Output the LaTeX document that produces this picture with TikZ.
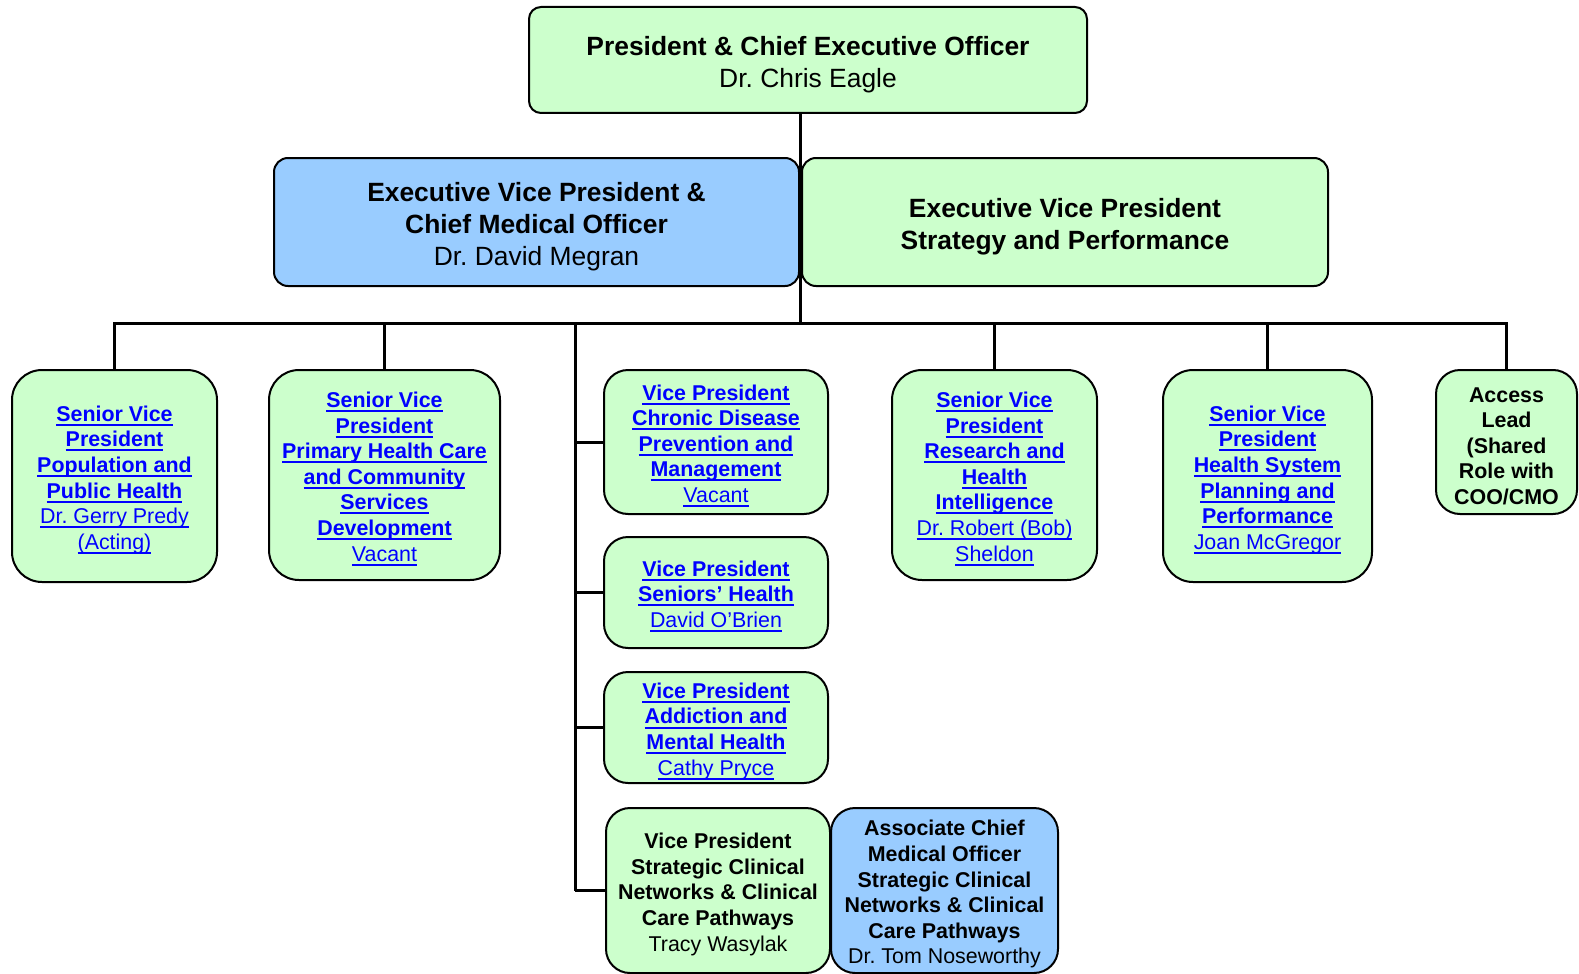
\documentclass[tikz,border=0pt]{standalone}
\usepackage{fontspec}
\setmainfont{Liberation Sans}
\frenchspacing
\definecolor{gfill}{HTML}{CCFFCC}
\definecolor{bfill}{HTML}{99CCFF}
\definecolor{lnk}{HTML}{0000FF}
\newsavebox{\ulbx}
\newcommand{\undl}[1]{\sbox{\ulbx}{#1}\rlap{\rule[-2.3pt]{\wd\ulbx}{1pt}}\usebox{\ulbx}}
\newcommand{\lkb}[1]{{\color{lnk}\bfseries\undl{#1}}}
\newcommand{\lkn}[1]{{\color{lnk}\undl{#1}}}
\newcommand{\fs}{\rule{0pt}{1.08em}}
\tikzset{
  orgbox/.style={draw=black, line width=1pt, align=center, inner sep=0pt,
    font=\fontsize{10.7}{12.8}\selectfont},
  greenbox/.style={orgbox, fill=gfill},
  bluebox/.style={orgbox, fill=bfill},
  bigfont/.style={font=\fontsize{13.2}{16}\selectfont},
  conn/.style={line width=1.5pt}
}
\begin{document}
\begin{tikzpicture}[x=0.5pt, y=-0.5pt]
\useasboundingbox (0,0) rectangle (1579,974);

% top levels
\node[greenbox, bigfont, rounded corners=6pt, minimum width=279pt, minimum height=53pt] (ceo) at (808,60)
  {\fs\textbf{President \& Chief Executive Officer}\\Dr. Chris Eagle};
\coordinate (bar) at (800,323);
\draw[conn] (ceo.south -| bar) -- (bar);

\node[bluebox, bigfont, rounded corners=7pt, minimum width=262.5pt, minimum height=64pt] (cmo) at (536.5,222)
  {\fs\textbf{Executive Vice President \&}\\\textbf{Chief Medical Officer}\\Dr. David Megran};
\node[greenbox, bigfont, rounded corners=7pt, minimum width=263pt, minimum height=64pt] (strat) at (1065,222)
  {\fs\textbf{Executive Vice President}\\\textbf{Strategy and Performance}};

% bottom row
\node[greenbox, rounded corners=15pt, minimum width=102.5pt, minimum height=106pt] (b1) at (114.5,476)
  {\fs\lkb{Senior Vice}\\\lkb{President}\\\lkb{Population and}\\\lkb{Public Health}\\\lkn{Dr. Gerry Predy}\\\lkn{(Acting)}};
\node[greenbox, rounded corners=15pt, minimum width=115.5pt, minimum height=105pt] (b2) at (384.5,475)
  {\fs\lkb{Senior Vice}\\\lkb{President}\\\lkb{Primary Health Care}\\\lkb{and Community}\\\lkb{Services}\\\lkb{Development}\\\lkn{Vacant}};
\node[greenbox, rounded corners=12pt, minimum width=112pt, minimum height=72pt] (b3) at (716,442)
  {\fs\lkb{Vice President}\\\lkb{Chronic Disease}\\\lkb{Prevention and}\\\lkb{Management}\\\lkn{Vacant}};
\node[greenbox, rounded corners=12pt, minimum width=112pt, minimum height=55.5pt] (b4) at (716,592.5)
  {\fs\lkb{Vice President}\\\lkb{Seniors’ Health}\\\lkn{David O’Brien}};
\node[greenbox, rounded corners=12pt, minimum width=112pt, minimum height=55.5pt] (b8) at (716,727.5)
  {\fs\lkb{Vice President}\\\lkb{Addiction and}\\\lkb{Mental Health}\\\lkn{Cathy Pryce}};
\node[greenbox, rounded corners=12pt, minimum width=112pt, minimum height=82.5pt] (b9) at (718,890.5)
  {\fs\textbf{Vice President}\\\textbf{Strategic Clinical}\\\textbf{Networks \& Clinical}\\\textbf{Care Pathways}\\Tracy Wasylak};
\node[bluebox, rounded corners=12pt, minimum width=113.5pt, minimum height=82.5pt] (b10) at (944.5,890.5)
  {\fs\textbf{Associate Chief}\\\textbf{Medical Officer}\\\textbf{Strategic Clinical}\\\textbf{Networks \& Clinical}\\\textbf{Care Pathways}\\Dr. Tom Noseworthy};
\node[greenbox, rounded corners=15pt, minimum width=102.5pt, minimum height=105pt] (b5) at (994.5,475)
  {\fs\lkb{Senior Vice}\\\lkb{President}\\\lkb{Research and}\\\lkb{Health}\\\lkb{Intelligence}\\\lkn{Dr. Robert (Bob)}\\\lkn{Sheldon}};
\node[greenbox, rounded corners=15pt, minimum width=104.5pt, minimum height=106pt] (b6) at (1267.5,476)
  {\fs\lkb{Senior Vice}\\\lkb{President}\\\lkb{Health System}\\\lkb{Planning and}\\\lkb{Performance}\\\lkn{Joan McGregor}};
\node[greenbox, rounded corners=12pt, minimum width=70.5pt, minimum height=72pt] (b7) at (1506.5,442)
  {\fs\textbf{Access}\\\textbf{Lead}\\\textbf{(Shared}\\\textbf{Role with}\\\textbf{COO/CMO}};

% connectors
\draw[conn] (b1.north) -- (b1.north |- bar) -- (b7.north |- bar) -- (b7.north);
\foreach \n in {b2,b5,b6} \draw[conn] (\n.north |- bar) -- (\n.north);
\coordinate (sp) at (575,323);
\draw[conn] (sp) -- (sp |- b9.west);
\foreach \n in {b3,b4,b8,b9} \draw[conn] (sp |- \n.west) -- (\n.west);
\end{tikzpicture}
\end{document}
